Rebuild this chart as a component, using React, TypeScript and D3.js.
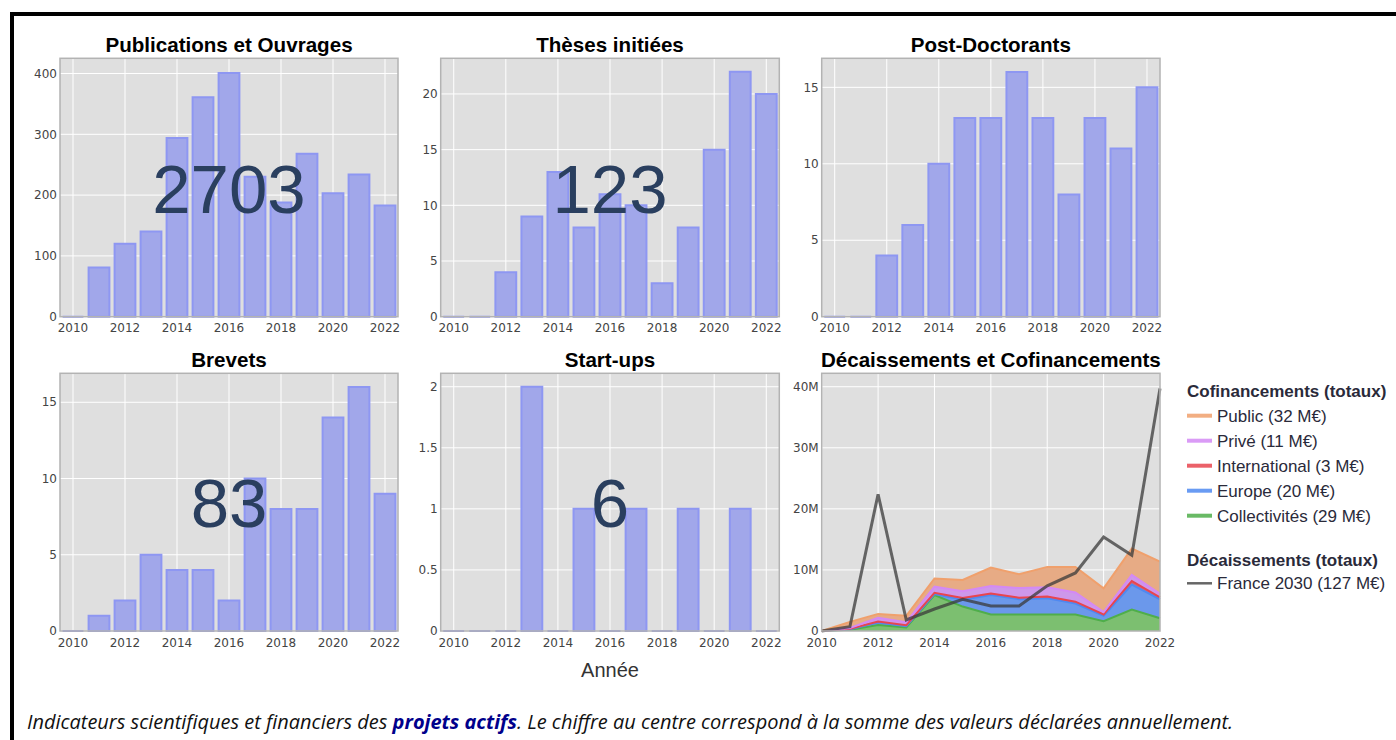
import React from 'react';
import * as d3 from 'd3';

// ---- data ----
const years = [2010, 2011, 2012, 2013, 2014, 2015, 2016, 2017, 2018, 2019, 2020, 2021, 2022];
const xTickYears = [2010, 2012, 2014, 2016, 2018, 2020, 2022];

const publications = [0, 81, 120, 140, 294, 361, 401, 230, 188, 268, 203, 234, 183];
const theses = [0, 0, 4, 9, 13, 8, 11, 10, 3, 8, 15, 22, 20];
const postdocs = [0, 0, 4, 6, 10, 13, 13, 16, 13, 8, 13, 11, 15];
const brevets = [0, 1, 2, 5, 4, 4, 2, 10, 8, 8, 14, 16, 9];
const startups = [0, 0, 0, 2, 0, 1, 0, 1, 0, 1, 0, 1, 0];

// cofinancements, M€ per year (stack order: bottom -> top)
const collectivites = [0, 0.2, 1.0, 0.6, 5.9, 4.0, 2.7, 2.7, 2.7, 2.7, 1.6, 3.5, 2.1];
const europe = [0, 0.1, 0.4, 0.2, 0.16, 1.1, 3.2, 2.5, 2.65, 1.8, 0.9, 4.1, 3.1];
const international = [0, 0.05, 0.15, 0.15, 0.2, 0.3, 0.25, 0.25, 0.3, 0.3, 0.2, 0.6, 0.3];
const prive = [0, 0.15, 0.6, 0.5, 1.0, 1.1, 1.2, 1.6, 1.5, 1.5, 0.4, 1.0, 0.6];
const publicFin = [0, 1.0, 0.65, 1.05, 1.34, 1.85, 3.05, 2.25, 3.35, 4.2, 3.9, 4.3, 5.25];
// décaissements France 2030, M€
const france2030 = [0, 0.7, 22.4, 1.8, 3.6, 5.2, 4.1, 4.1, 7.4, 9.5, 15.4, 12.4, 39.7];

const cofinKeys = ['collectivites', 'europe', 'international', 'prive', 'public'];
const cofinNames = ['Collectivités', 'Europe', 'International', 'Privé', 'Public'];
const cofinTotals = [29, 20, 3, 11, 32];
const franceTotal = 127;

const moneyTicks = [0, 10, 20, 30, 40];

// ---- styles ----
const PLOT_BG = '#dfdfdf';
const BAR_FILL = '#a1a7ea';
const BAR_LINE = '#8e97f2';
const TICK_FONT = 'Verdana, "DejaVu Sans", sans-serif';
const ARIAL = 'Arial, "Liberation Sans", sans-serif';

const fills: Record<string, string> = {
  collectivites: '#7cbf70', europe: '#6b98eb', international: '#e0606c', prive: '#cd98ea', public: '#e7ab85',
};
const lines: Record<string, string> = {
  collectivites: '#4fae4a', europe: '#4f89f1', international: '#e8454f', prive: '#d489f4', public: '#f0a06c',
};

type Box = { x0: number; x1: number; y0: number; y1: number };

const col = [{ x0: 60, x1: 398 }, { x0: 440.7, x1: 779.3 }, { x0: 821.7, x1: 1160 }];
const row = [{ y0: 58.3, y1: 316.7 }, { y0: 373.3, y1: 631 }];
const box = (c: number, r: number): Box => ({ ...col[c], ...row[r] });

const Frame = ({ b, title }: { b: Box; title: string }) => (
  <text x={(b.x0 + b.x1) / 2} y={b.y0 - 6} textAnchor="middle" fontFamily={ARIAL}
    fontWeight="bold" fontSize={20.6} fill="#000">{title}</text>
);

const BarPanel = ({ b, title, values, yMax, yTicks, showTotal }:
  { b: Box; title: string; values: number[]; yMax: number; yTicks: number[]; showTotal: boolean }) => {
  const x = d3.scaleLinear().domain([2009.5, 2022.5]).range([b.x0, b.x1]);
  const y = d3.scaleLinear().domain([0, yMax]).range([b.y1, b.y0]);
  const total = d3.sum(values);
  return (
    <g>
      <rect x={b.x0} y={b.y0} width={b.x1 - b.x0} height={b.y1 - b.y0} fill={PLOT_BG} />
      {xTickYears.map(t => (
        <line key={'gx' + t} x1={x(t)} x2={x(t)} y1={b.y0} y2={b.y1} stroke="#fff" strokeWidth={1} />
      ))}
      {yTicks.map(t => (
        <line key={'gy' + t} x1={b.x0} x2={b.x1} y1={y(t)} y2={y(t)} stroke="#fff" strokeWidth={1} />
      ))}
      {values.map((v, i) => {
        const xa = x(years[i] - 0.4), xb = x(years[i] + 0.4);
        return (
          <path key={i} d={`M${xa},${b.y1}H${xb}V${y(v)}H${xa}Z`} fill={BAR_FILL}
            stroke={BAR_LINE} strokeWidth={2} />
        );
      })}
      <rect x={b.x0} y={b.y0} width={b.x1 - b.x0} height={b.y1 - b.y0} fill="none" stroke="#b3b3b3" strokeWidth={1.5} />
      {yTicks.map(t => (
        <text key={'ty' + t} x={b.x0 - 3} y={y(t)} dy="0.35em" textAnchor="end" fontFamily={TICK_FONT}
          fontSize={12} fill="#444">{String(t)}</text>
      ))}
      {xTickYears.map(t => (
        <text key={'tx' + t} x={x(t)} y={b.y1 + 15.5} textAnchor="middle" fontFamily={TICK_FONT}
          fontSize={12} fill="#444">{t}</text>
      ))}
      {showTotal && (
        <text x={(b.x0 + b.x1) / 2} y={(b.y0 + b.y1) / 2 + 25} textAnchor="middle" fontFamily={ARIAL}
          fontSize={69} fill="#2a3f5f">{total}</text>
      )}
      <Frame b={b} title={title} />
    </g>
  );
};

const MoneyPanel = ({ b }: { b: Box }) => {
  const x = d3.scaleLinear().domain([2010, 2022]).range([b.x0, b.x1]);
  const y = d3.scaleLinear().domain([0, 42.2]).range([b.y1, b.y0]);
  const table = years.map((yr, i) => ({
    year: yr,
    collectivites: collectivites[i], europe: europe[i], international: international[i],
    prive: prive[i], public: publicFin[i],
  }));
  const series = d3.stack<any>().keys(cofinKeys)(table);
  const area = d3.area<any>().x(d => x(d.data.year)).y0(d => y(d[0])).y1(d => y(d[1]));
  const topLine = d3.line<any>().x(d => x(d.data.year)).y(d => y(d[1]));
  const fLine = d3.line<number>().x((_, i) => x(years[i])).y(d => y(d));
  return (
    <g>
      <rect x={b.x0} y={b.y0} width={b.x1 - b.x0} height={b.y1 - b.y0} fill={PLOT_BG} />
      {xTickYears.map(t => (
        <line key={'gx' + t} x1={x(t)} x2={x(t)} y1={b.y0} y2={b.y1} stroke="#fff" strokeWidth={1} />
      ))}
      {moneyTicks.map(t => (
        <line key={'gy' + t} x1={b.x0} x2={b.x1} y1={y(t)} y2={y(t)} stroke="#fff" strokeWidth={1} />
      ))}
      {series.map(s => (
        <path key={'a' + s.key} d={area(s) || ''} fill={fills[s.key]} />
      ))}
      {series.map(s => (
        <path key={'l' + s.key} d={topLine(s) || ''} fill="none" stroke={lines[s.key]} strokeWidth={2} />
      ))}
      <path d={fLine(france2030) || ''} fill="none" stroke="#3a3a3a" strokeOpacity={0.75} strokeWidth={3} />
      <rect x={b.x0} y={b.y0} width={b.x1 - b.x0} height={b.y1 - b.y0} fill="none" stroke="#b3b3b3" strokeWidth={1.5} />
      {moneyTicks.map(t => (
        <text key={'ty' + t} x={b.x0 - 3} y={y(t)} dy="0.35em" textAnchor="end" fontFamily={TICK_FONT}
          fontSize={12} fill="#444">{t === 0 ? '0' : t + 'M'}</text>
      ))}
      {xTickYears.map(t => (
        <text key={'tx' + t} x={x(t)} y={b.y1 + 15.5} textAnchor="middle" fontFamily={TICK_FONT}
          fontSize={12} fill="#444">{t}</text>
      ))}
      <Frame b={b} title="Décaissements et Cofinancements" />
    </g>
  );
};

const Legend = () => {
  const lx = 1187;
  const order = [4, 3, 2, 1, 0];
  return (
    <g fontFamily={ARIAL} fill="#2a2a3a">
      <text x={lx} y={397} fontSize={17} fontWeight="bold">Cofinancements (totaux)</text>
      {order.map((k, j) => {
        const cy = 415.7 + j * 25;
        return (
          <g key={k}>
            <line x1={lx} x2={lx + 25} y1={cy} y2={cy} stroke={lines[cofinKeys[k]]} strokeWidth={4} strokeOpacity={0.85} />
            <text x={lx + 30} y={cy} dy="0.35em" fontSize={17}>{`${cofinNames[k]} (${cofinTotals[k]} M€)`}</text>
          </g>
        );
      })}
      <text x={lx} y={565.5} fontSize={17} fontWeight="bold">Décaissements (totaux)</text>
      <line x1={lx} x2={lx + 25} y1={583.3} y2={583.3} stroke="#666" strokeWidth={2.5} />
      <text x={lx + 30} y={583.3} dy="0.35em" fontSize={17}>{`France 2030 (${franceTotal} M€)`}</text>
    </g>
  );
};

export default function App() {
  return (
    <svg width={1396} height={740} style={{ position: 'absolute', left: 0, top: 0, background: '#fff' }}>
      <rect x={10} y={12} width={1386} height={4} fill="#000" />
      <rect x={10} y={12} width={4} height={728} fill="#000" />
      <BarPanel b={box(0, 0)} title="Publications et Ouvrages" values={publications} yMax={425}
        yTicks={[0, 100, 200, 300, 400]} showTotal />
      <BarPanel b={box(1, 0)} title="Thèses initiées" values={theses} yMax={23.2}
        yTicks={[0, 5, 10, 15, 20]} showTotal />
      <BarPanel b={box(2, 0)} title="Post-Doctorants" values={postdocs} yMax={16.9}
        yTicks={[0, 5, 10, 15]} showTotal={false} />
      <BarPanel b={box(0, 1)} title="Brevets" values={brevets} yMax={16.9}
        yTicks={[0, 5, 10, 15]} showTotal />
      <BarPanel b={box(1, 1)} title="Start-ups" values={startups} yMax={2.11}
        yTicks={[0, 0.5, 1, 1.5, 2]} showTotal />
      <MoneyPanel b={box(2, 1)} />
      <text x={610} y={677} textAnchor="middle" fontFamily={ARIAL} fontSize={20} fill="#333">Année</text>
      <Legend />
      <text x={27} y={729} fontFamily={'"Liberation Sans Narrow", "Open Sans", sans-serif'} fontStyle="italic"
        fontSize={20} fill="#111" textLength={1206} lengthAdjust="spacingAndGlyphs">
        Indicateurs scientifiques et financiers des{' '}
        <tspan fill="#00008b" fontWeight="bold">projets actifs</tspan>
        . Le chiffre au centre correspond à la somme des valeurs déclarées annuellement.
      </text>
    </svg>
  );
}
